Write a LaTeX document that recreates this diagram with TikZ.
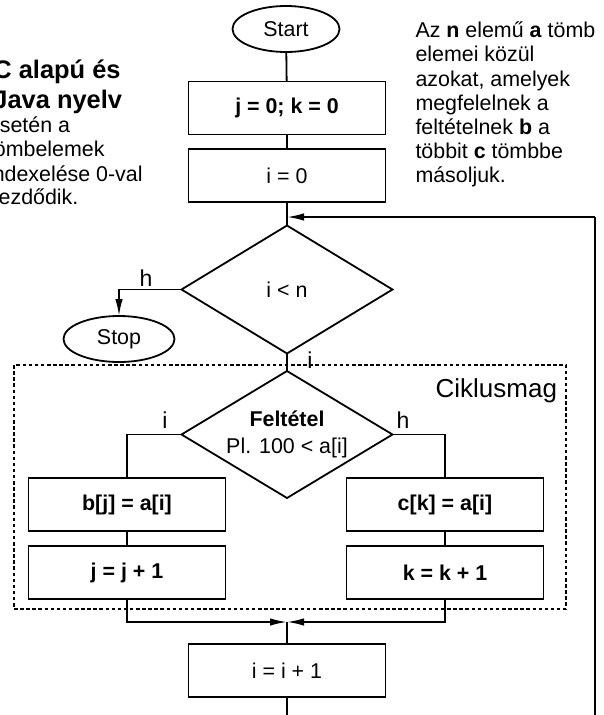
\documentclass[tikz,border=0pt]{standalone}
\usepackage{fontspec}
\setmainfont{Liberation Sans}
\usetikzlibrary{shapes.geometric,arrows.meta}
\begin{document}
\begin{tikzpicture}[x=1pt,y=-1pt,
  every node/.style={inner sep=0pt, outer sep=0pt},
  txt/.style={font=\fontsize{21.4}{25}\selectfont},
  conn/.style={line width=1.8pt},
  flow/.style={line width=1.8pt, -{Latex[length=17pt,width=7.5pt]}},
  proc/.style={draw, line width=1.8pt, rectangle, minimum width=197pt, minimum height=53pt, txt},
  term/.style={draw, line width=1.8pt, ellipse, minimum width=107pt, minimum height=46pt, txt},
  decide/.style={draw, line width=1.8pt, diamond, aspect=1.65, minimum width=211pt, minimum height=128pt, txt, align=center},
  lbl/.style={font=\fontsize{23}{26}\selectfont, anchor=base},
  note/.style={font=\fontsize{21.4}{25}\selectfont, anchor=base west},
  headline/.style={font=\fontsize{25.4}{30}\bfseries\selectfont, anchor=base west},
  loopbody/.style={draw, line width=1.6pt, dash pattern=on 3.5pt off 2.6pt, minimum width=552pt, minimum height=244pt}
]
\useasboundingbox (0,0) rectangle (603,715);

% side notes
\node[headline] (h1) at (-6.5,78) {C alapú és};
\node[headline] (h2) at (-6.5,108) {Java nyelv};
\foreach \yy/\tt [count=\k] in {132.7/{esetén a}, 156.7/{tömbelemek}, 181/{indexelése 0-val}, 204.5/{kezdődik.}}
  \node[note, name=l\k] at (-12,\yy) {\tt};
\foreach \yy/\tt [count=\k] in {37.7/{Az \textbf{n} elemű \textbf{a} tömb}, 61.9/{elemei közül}, 86.1/{azokat, amelyek},
    110.3/{megfelelnek a}, 134.5/{feltételnek \textbf{b} a}, 158.7/{többit \textbf{c} tömbbe}, 182.9/{másoljuk.}}
  \node[note, name=r\k] at (415.5,\yy) {\tt};

% loop body frame
\node[loopbody] (body) at (290,487) {};
\node[font=\fontsize{26}{30}\selectfont, anchor=base east] (bodylbl) at (557,397) {Ciklusmag};

% main column
\node[term] (start) at (286,29) {Start};
\node[proc] (init) at (287,108) {\bfseries j = 0; k = 0};
\node[proc] (izero) at (287,175.5) {i = 0};
\node[decide] (cond) at (287,289.5) {i < n};
\node[term, minimum width=111pt] (stop) at (119,339) {Stop};
\node[decide, minimum height=127pt] (test) at (287,434.5) {\textbf{Feltétel}\\[2pt]Pl. 100 < a[i]};
\node[proc] (bj) at (127,504.5) {\bfseries b[j] = a[i]};
\node[proc] (jj) at (127,572.5) {\bfseries j = j + 1};
\node[proc] (ck) at (445,504.5) {\bfseries c[k] = a[i]};
\node[proc] (kk) at (445,572.5) {\bfseries k = k + 1};
\node[proc] (inc) at (287,670.5) {i = i + 1};

% branch labels
\node[lbl] (lh) at (146,286) {h};
\node[lbl] (li) at (310,368) {i};
\node[lbl] (ti) at (165,428) {i};
\node[lbl] (th) at (403,428) {h};

% junction points
\coordinate (join) at (287,217);
\coordinate (merge) at (287,622);
\coordinate (down) at (287,740);
\coordinate (corner) at (595,740);
\coordinate (back) at (595,217);

% connectors
\draw[conn] (start) -- (init);
\draw[conn] (init) -- (izero);
\draw[conn] (izero) -- (cond);
\draw[flow] (cond.west) -| (stop.north);
\draw[conn] (cond.south) -- (test.north);
\draw[conn] (test.west) -| (bj.north);
\draw[conn] (test.east) -| (ck.north);
\draw[conn] (bj) -- (jj);
\draw[conn] (ck) -- (kk);
\draw[flow] (jj.south) |- (merge);
\draw[flow] (kk.south) |- (merge);
\draw[conn] (merge) -- (inc.north);
\draw[conn] (inc.south) -- (down) -- (corner) -- (back);
\draw[flow] (back) -- (join);
\end{tikzpicture}
\end{document}
